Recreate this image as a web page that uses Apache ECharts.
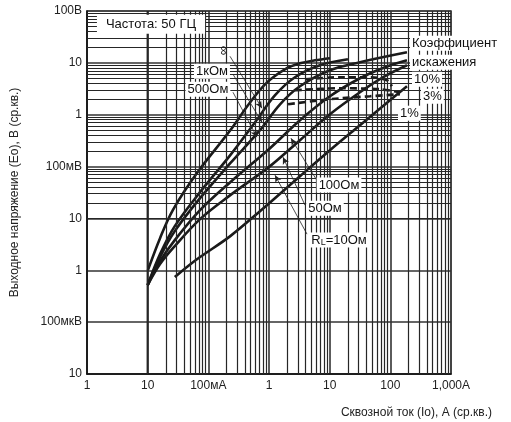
<!DOCTYPE html>
<html><head><meta charset="utf-8">
<script src="https://cdn.jsdelivr.net/npm/echarts@6/dist/echarts.min.js"></script>
<style>html,body{margin:0;padding:0;background:#fff}#c{width:511px;height:422px}</style>
</head><body><div id="c"></div>
<script>
// Tick labels (by decade exponent)
const xTickLabels = {'-3':'1','-2':'10','-1':'100мА','0':'1','1':'10','2':'100','3':'1,000A'};
const yTickLabels = {'-5':'10','-4':'100мкВ','-3':'1','-2':'10','-1':'100мВ','0':'1','1':'10','2':'100В'};

// Load curves: current (A) vs output voltage (V)
const curveNames = ['∞','1кОм','500Ом','100Ом','50Ом','10Ом'];
const iInf = [0.0101,0.016,0.026,0.065,0.23,0.49,0.93,1.98,3.24,5.7,10.1];
const vInf = [0.00101,0.00417,0.0145,0.075,0.50,1.74,4.2,7.9,9.8,11.2,12.3];
const i1k  = [0.01,0.016,0.028,0.073,0.23,0.59,1.26,2.68,6.93,20.0];
const v1k  = [0.00052,0.00205,0.00711,0.0321,0.166,0.717,2.38,5.28,8.99,11.7];
const i500 = [0.01,0.016,0.028,0.073,0.23,0.71,1.52,3.24,10.1,31.6,188];
const v500 = [0.00052,0.0018,0.00569,0.0246,0.116,0.503,1.59,3.54,7.20,10.3,16.0];
const i100 = [0.01,0.016,0.028,0.073,0.23,1.04,3.24,10.1,31.6,81.6,188];
const v100 = [0.00052,0.0015,0.00382,0.01445,0.05,0.226,0.783,2.27,5.05,8.23,11.2];
const i50  = [0.01,0.016,0.028,0.073,0.23,1.04,3.24,10.1,31.6,81.6,188];
const v50  = [0.00052,0.00132,0.00293,0.0097,0.0281,0.102,0.323,1.02,2.71,5.52,8.99];
const i10  = [0.028,0.046,0.073,0.23,0.71,3.24,10.1,31.6,98.7,188];
const v10  = [0.00074,0.0012,0.0018,0.00456,0.0138,0.0653,0.207,0.628,1.90,3.54];

// Distortion factor (dashed) lines
const iD10 = [3.92,14.8,46.2,88.1,106];
const vD10 = [4.83,5.28,5.28,4.62,3.54];
const iD3  = [2.68,14.8,67.5,144];
const vD3  = [2.96,3.24,3.10,2.71];
const iD1  = [2.06,10.1,46.2,144];
const vD1  = [1.59,1.99,2.27,2.48];

// Annotations (in data units)
const noteTexts = ['Частота: 50 ГЦ','∞','1кОм','500Ом','100Ом','50Ом','{r|R}{s|L}=10Ом','Коэффициент','искажения','10%','3%','1%'];
const noteI = [0.01135,0.1746,0.1148,0.0986,14.25,8.37,14.25,210.9,210.9,227.5,320,133.7];
const noteV = [55.4,17.5,6.89,3.10,0.0439,0.01578,0.00382,23.9,10.3,4.83,2.27,1.07];
const leadFromI = [0.2275,0.255,0.255,6.42,3.92,4.23];
const leadFromV = [13.4,6.03,2.71,0.05,0.01804,0.00498];
const leadToI = [0.766,0.766,0.634,2.30,1.70,1.256];
const leadToV = [1.33,0.717,0.369,0.352,0.152,0.0682];

const FONT = 'Arial, "Liberation Sans", sans-serif';
const zip = (a,b) => a.map((x,i)=>[x,b[i]]);

const xMinor = [], yMinor = [];
for (let d=-3; d<=2; d++) for (let k=2;k<=9;k++) xMinor.push({xAxis: k*Math.pow(10,d)});
for (let d=-5; d<=1; d++) for (let k=2;k<=9;k++) yMinor.push({yAxis: k*Math.pow(10,d)});

const curves = [[iInf,vInf],[i1k,v1k],[i500,v500],[i100,v100],[i50,v50],[i10,v10]];
const dashes = [[iD10,vD10,'10%'],[iD3,vD3,'3%'],[iD1,vD1,'1%']];

const series = [];
series.push({
  type:'line', name:'grid', data:[], silent:true, z:1,
  markLine:{silent:true, symbol:['none','none'], animation:false, label:{show:false},
    lineStyle:{color:'#262626', width:1.2, type:'solid'}, emphasis:{disabled:true},
    data: xMinor.concat(yMinor)}
});
curves.forEach((c,i)=>series.push({
  type:'line', name:curveNames[i], data:zip(c[0],c[1]), smooth:0.35, showSymbol:false, z:3,
  lineStyle:{color:'#1a1a1a', width:2.6}, animation:false
}));
dashes.forEach(d=>series.push({
  type:'line', name:d[2], data:zip(d[0],d[1]), smooth:0.3, showSymbol:false, z:3,
  lineStyle:{color:'#1a1a1a', width:2.6, type:[7,4]}, animation:false
}));
series.push({
  type:'line', name:'leaders', data:[], z:4, silent:true,
  markLine:{silent:true, animation:false, symbol:['none','arrow'], symbolSize:[5,7],
    label:{show:false}, lineStyle:{color:'#222', width:0.8, type:'solid'},
    data: leadFromI.map((x,i)=>[{coord:[x,leadFromV[i]]},{coord:[leadToI[i],leadToV[i]]}])}
});
series.push({
  type:'line', name:'notes', data:[], z:6, silent:true,
  markPoint:{silent:true, animation:false, symbol:'rect', symbolSize:0,
    data: noteTexts.map((t,i)=>({
      coord:[noteI[i],noteV[i]], value:t,
      label:{show:true, position:'inside', formatter:t,
        align: i>=7 ? 'left':'center', verticalAlign:'middle',
        rotate: i===1 ? 90 : 0,
        color:'#111', fontFamily:FONT, fontSize: i===1?13:13,
        backgroundColor: i===1 ? 'transparent' : '#fff',
        padding: i===0 ? [3,9,3,9] : [1,2,1,2],
        rich:{r:{fontSize:13,fontFamily:FONT,color:'#111'}, s:{fontSize:9,fontFamily:FONT,color:'#111',verticalAlign:'bottom',padding:[4,0,0,0]}}
      }
    }))}
});

const chart = echarts.init(document.getElementById('c'), null, {renderer:'canvas'});
chart.setOption({
  animation:false,
  backgroundColor:'#fff',
  title:{text:'Сквозной ток (Io), A (ср.кв.)', right:14, top:402,
    textStyle:{fontFamily:FONT, fontSize:12, fontWeight:'normal', color:'#222'}},
  grid:{left:87, top:11, width:364, height:363, show:true, borderColor:'#8a8a8a', borderWidth:2, backgroundColor:'transparent'},
  xAxis:{type:'log', logBase:10, min:0.001, max:1000, splitNumber:6,
    axisLine:{show:true, lineStyle:{color:'#111', width:1.5}}, axisTick:{show:false},
    axisLabel:{color:'#222', fontFamily:FONT, fontSize:12, margin:6,
      formatter:v=>xTickLabels[String(Math.round(Math.log10(v)))]||''},
    splitLine:{show:true, lineStyle:{color:'#333', width:1.6}}},
  yAxis:{type:'log', logBase:10, min:0.00001, max:100, splitNumber:7,
    name:'Выходное напряжение (Eо), В (ср.кв.)', nameLocation:'middle', nameGap:66, nameRotate:90,
    nameTextStyle:{fontFamily:FONT, fontSize:12, color:'#222'},
    axisLine:{show:true, lineStyle:{color:'#111', width:1.5}}, axisTick:{show:false},
    axisLabel:{color:'#222', fontFamily:FONT, fontSize:12, margin:5,
      formatter:v=>yTickLabels[String(Math.round(Math.log10(v)))]||''},
    splitLine:{show:true, lineStyle:{color:'#333', width:1.6}}},
  series: series
});
</script></body></html>
